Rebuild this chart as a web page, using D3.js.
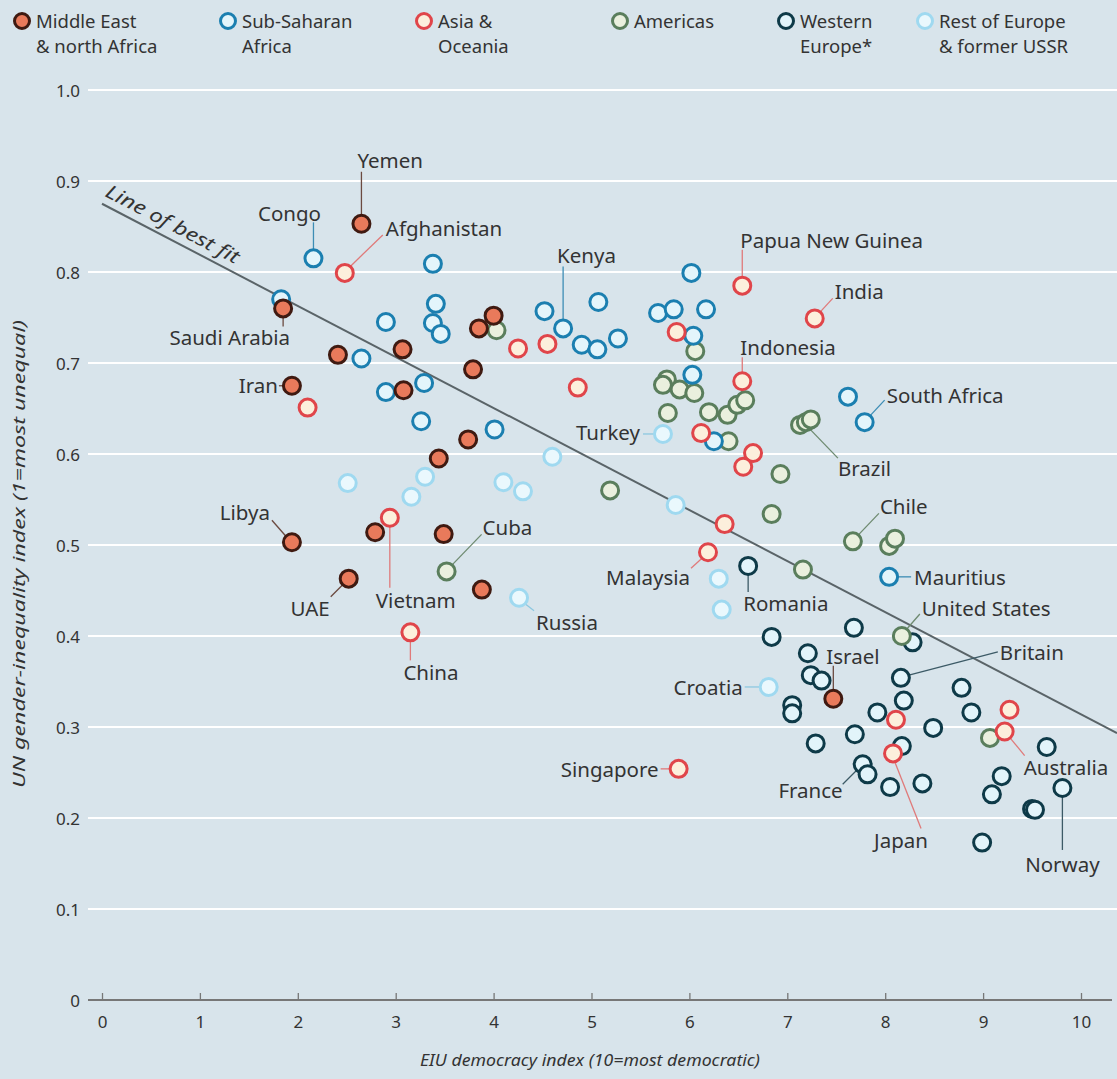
<!DOCTYPE html>
<html><head><meta charset="utf-8">
<script src="https://cdn.jsdelivr.net/npm/d3@7"></script>
<style>
html,body{margin:0;padding:0;background:#d8e4eb;}
svg{display:block;}
text{font-family:"Noto Sans",sans-serif;fill:#333;}
</style></head>
<body>
<script>
// ---- data (x = EIU democracy index, y = UN gender-inequality index) ----
const middleEast = [[2.65,0.853],[1.85,0.760],[1.94,0.675],[2.41,0.709],[3.07,0.715],[3.08,0.670],[3.79,0.693],[3.74,0.616],[3.44,0.595],[3.85,0.738],[4.00,0.752],[1.94,0.503],[2.52,0.463],[2.79,0.514],[3.49,0.512],[3.88,0.451],[7.47,0.331]];
const subSaharan = [[2.16,0.815],[1.83,0.770],[3.38,0.809],[2.90,0.745],[3.41,0.765],[3.38,0.744],[3.46,0.732],[2.65,0.705],[2.90,0.668],[3.29,0.678],[3.26,0.636],[4.01,0.627],[4.71,0.738],[4.52,0.757],[5.07,0.767],[4.90,0.720],[5.06,0.715],[5.27,0.727],[6.02,0.799],[5.68,0.755],[5.84,0.759],[6.17,0.759],[6.04,0.730],[6.03,0.687],[6.25,0.614],[7.62,0.663],[7.79,0.635],[8.04,0.465]];
const asiaOceania = [[2.48,0.799],[2.10,0.651],[4.25,0.716],[4.55,0.721],[4.86,0.673],[6.54,0.785],[7.28,0.749],[5.87,0.734],[6.54,0.680],[6.12,0.623],[6.65,0.601],[6.55,0.586],[2.94,0.530],[3.15,0.404],[6.19,0.492],[6.36,0.523],[5.89,0.254],[8.11,0.308],[8.08,0.271],[9.27,0.319],[9.22,0.295]];
const americas = [[3.52,0.471],[4.03,0.736],[5.19,0.560],[6.06,0.713],[5.77,0.682],[5.73,0.676],[5.90,0.671],[6.05,0.667],[5.78,0.645],[6.20,0.646],[6.39,0.643],[6.49,0.654],[6.57,0.659],[6.40,0.614],[6.93,0.578],[7.13,0.632],[7.19,0.635],[7.24,0.638],[6.84,0.534],[7.16,0.473],[7.67,0.504],[8.04,0.499],[8.10,0.507],[8.17,0.400],[9.07,0.288]];
const westernEurope = [[6.60,0.477],[6.84,0.399],[7.68,0.409],[8.28,0.393],[7.21,0.381],[7.24,0.357],[7.35,0.351],[7.05,0.324],[7.05,0.315],[8.16,0.354],[8.19,0.329],[7.92,0.316],[8.49,0.299],[7.69,0.292],[7.29,0.282],[8.17,0.279],[7.77,0.259],[7.82,0.248],[8.05,0.234],[8.38,0.238],[8.78,0.343],[8.88,0.316],[9.65,0.278],[9.81,0.233],[9.19,0.246],[9.09,0.226],[9.50,0.210],[9.53,0.209],[8.99,0.173]];
const restOfEurope = [[2.51,0.568],[3.30,0.575],[3.16,0.553],[4.10,0.569],[4.30,0.559],[4.60,0.597],[4.26,0.442],[5.73,0.622],[5.86,0.544],[6.30,0.463],[6.33,0.429],[6.81,0.344]];

const seriesNames = ["Middle East\n& north Africa","Sub-Saharan\nAfrica","Asia &\nOceania","Americas","Western\nEurope*","Rest of Europe\n& former USSR"];
const xTicks = [0,1,2,3,4,5,6,7,8,9,10];
const yTicks = [0,0.1,0.2,0.3,0.4,0.5,0.6,0.7,0.8,0.9,1.0];
const bestFit = {intercept:0.875, slope:-0.0561};

// labelled countries: [name, series, index]
const labelled = [
 ["Yemen","me",0],["Congo","ssa",0],["Afghanistan","asia",0],["Saudi Arabia","me",1],["Iran","me",2],
 ["Libya","me",11],["UAE","me",12],["Vietnam","asia",12],["China","asia",13],["Cuba","am",0],
 ["Russia","roe",6],["Kenya","ssa",12],["Papua New Guinea","asia",5],["India","asia",6],["Indonesia","asia",8],
 ["South Africa","ssa",26],["Turkey","roe",7],["Brazil","am",16],["Chile","am",20],["Malaysia","asia",14],
 ["Mauritius","ssa",27],["Romania","we",0],["United States","am",23],["Britain","we",9],["Israel","me",16],
 ["Croatia","roe",11],["Singapore","asia",16],["France","we",16],["Japan","asia",18],["Australia","asia",20],["Norway","we",23]
];

// ---- layout / style ----
const W=1117,H=1079;
const styles = {
 me:{fill:"#e97a5b",stroke:"#3f1a11",line:"#6b4a40"},
 ssa:{fill:"#e3f5fb",stroke:"#1b7fb0",line:"#3d8db5"},
 asia:{fill:"#fcefdc",stroke:"#e0454a",line:"#e07a7a"},
 am:{fill:"#eaf0de",stroke:"#5a7e5c",line:"#6e8a70"},
 we:{fill:"#e2f4fa",stroke:"#0e3a48",line:"#3c5a66"},
 roe:{fill:"#eaf8fd",stroke:"#9fd9f0",line:"#8cc8e0"}
};
const seriesData = {me:middleEast,ssa:subSaharan,asia:asiaOceania,am:americas,we:westernEurope,roe:restOfEurope};
const legendKeys = ["me","ssa","asia","am","we","roe"];
const drawOrder = ["we","am","roe","ssa","asia","me"];

// label layout offsets (pixels, relative to the point): text dx,dy, anchor, leader x1,y1,x2,y2
const labelLayout = {
 "Yemen":[-4,-64,"start",0,-9,0,-52],
 "Congo":[-24,-45,"middle",0,-9,0,-36],
 "Afghanistan":[41,-45,"start",6,-7,38,-38],
 "Saudi Arabia":[7,29,"end",0,8,0,18],
 "Iran":[-14,-1,"end",-8,0,-13,0],
 "Libya":[-22,-30,"end",-6,-6,-20,-22],
 "UAE":[-19,29,"end",-6,6,-18,18],
 "Vietnam":[-14,82,"start",0,9,0,70],
 "China":[-7,40,"start",0,9,0,28],
 "Cuba":[36,-44,"start",6,-7,35,-37],
 "Russia":[17,24,"start",6,6,15,13],
 "Kenya":[-6,-73,"start",0,-9,0,-62],
 "Papua New Guinea":[-2,-46,"start",0,-9,0,-36],
 "India":[20,-27,"start",6,-7,18,-20],
 "Indonesia":[-2,-34,"start",0,-9,0,-24],
 "South Africa":[22,-27,"start",6,-7,20,-22],
 "Turkey":[-23,-2,"end",-9,0,-20,0],
 "Brazil":[32,46,"start",5,8,32,36],
 "Chile":[27,-35,"start",6,-7,26,-28],
 "Malaysia":[-18,25,"end",-6,6,-17,16],
 "Mauritius":[25,0,"start",9,0,22,0],
 "Romania":[-5,37,"start",0,9,0,26],
 "United States":[20,-28,"start",5,-7,18,-22],
 "Britain":[99,-26,"start",9,-3,97,-26],
 "Israel":[-7,-43,"start",0,-9,0,-33],
 "Croatia":[-26,0,"end",-9,0,-24,0],
 "Singapore":[-20,0,"end",-9,0,-18,0],
 "France":[-20,26,"end",-6,6,-20,20],
 "Japan":[8,87,"middle",2,9,28,75],
 "Australia":[19,35,"start",6,7,20,24],
 "Norway":[0,76,"middle",0,9,0,62]
};

const svg = d3.select("body").append("svg").attr("width",W).attr("height",H);
svg.append("rect").attr("width",W).attr("height",H).attr("fill","#d8e4eb");

const x = d3.scaleLinear().domain([0,10]).range([102,1081]);
const y = d3.scaleLinear().domain([0,1]).range([1000,90]);

// gridlines
svg.append("g").selectAll("line").data(yTicks.filter(d=>d>0)).join("line")
 .attr("x1",88).attr("x2",W).attr("y1",d=>y(d)).attr("y2",d=>y(d))
 .attr("stroke","#ffffff").attr("stroke-width",2.2);

// y tick labels
svg.append("g").selectAll("text").data(yTicks).join("text")
 .attr("x",80).attr("y",d=>y(d)).attr("text-anchor","end").attr("dominant-baseline","central")
 .attr("font-size",17).text(d=>d===0?"0":d.toFixed(1));

// x axis
const xAxis = d3.axisBottom(x).tickValues(xTicks).tickSize(0).tickPadding(0).tickFormat(d3.format("d"));
const ax = svg.append("g").attr("transform",`translate(0,${y(0)})`).call(xAxis);
ax.select(".domain").remove();
ax.selectAll(".tick text").attr("font-size",17).attr("fill","#333").attr("y",28).attr("dy",0)
  .style("font-family","Noto Sans, sans-serif");
ax.selectAll(".tick").append("line").attr("y1",0).attr("y2",-7).attr("stroke","#777").attr("stroke-width",1.3);
svg.append("line").attr("x1",88).attr("x2",1112).attr("y1",y(0)).attr("y2",y(0)).attr("stroke","#777").attr("stroke-width",2);

// axis titles
svg.append("text").attr("x",590).attr("y",1066).attr("text-anchor","middle").attr("font-size",16)
 .attr("font-style","italic").attr("fill","#555").attr("textLength",340).attr("lengthAdjust","spacingAndGlyphs")
 .text("EIU democracy index (10=most democratic)");
svg.append("text").attr("transform","translate(19,554) rotate(-90)").attr("text-anchor","middle")
 .attr("dominant-baseline","central").attr("font-size",16).attr("font-style","italic").attr("fill","#555")
 .attr("textLength",468).attr("lengthAdjust","spacingAndGlyphs")
 .text("UN gender-inequality index (1=most unequal)");

// best fit line
const xEnd = x.invert(W);
svg.append("line").attr("x1",x(0)).attr("y1",y(bestFit.intercept))
 .attr("x2",x(xEnd)).attr("y2",y(bestFit.intercept+bestFit.slope*xEnd))
 .attr("stroke","#5a6468").attr("stroke-width",2);
const ang = Math.atan2(y(bestFit.intercept+bestFit.slope*1)-y(bestFit.intercept), x(1)-x(0))*180/Math.PI;
svg.append("text").attr("transform",`translate(${x(0.02)},${y(bestFit.intercept)-8}) rotate(${ang})`)
 .attr("font-size",19).attr("font-style","italic").attr("fill","#444")
 .attr("textLength",148).attr("lengthAdjust","spacingAndGlyphs").text("Line of best fit");

// leader lines
const lg = svg.append("g");
labelled.forEach(([name,key,i])=>{
  const p=seriesData[key][i], L=labelLayout[name];
  const px=x(p[0]), py=y(p[1]);
  lg.append("line").attr("x1",px+L[3]).attr("y1",py+L[4]).attr("x2",px+L[5]).attr("y2",py+L[6])
   .attr("stroke",styles[key].line).attr("stroke-width",1.3);
});

// points
drawOrder.forEach(key=>{
  svg.append("g").selectAll("circle").data(seriesData[key]).join("circle")
   .attr("cx",d=>x(d[0])).attr("cy",d=>y(d[1])).attr("r",8.5)
   .attr("fill",styles[key].fill).attr("stroke",styles[key].stroke).attr("stroke-width",3);
});

// labels
const tg = svg.append("g");
labelled.forEach(([name,key,i])=>{
  const p=seriesData[key][i], L=labelLayout[name];
  tg.append("text").attr("x",x(p[0])+L[0]).attr("y",y(p[1])+L[1]).attr("text-anchor",L[2])
   .attr("dominant-baseline","central").attr("font-size",20.5).attr("fill","#3a3a3a").text(name);
});

// legend
const legendX = [22,228,424,620,786,925];
legendKeys.forEach((key,i)=>{
  const g = svg.append("g").attr("transform",`translate(${legendX[i]},21)`);
  g.append("circle").attr("r",7.5).attr("fill",styles[key].fill).attr("stroke",styles[key].stroke).attr("stroke-width",3);
  seriesNames[i].split("\n").forEach((t,j)=>{
    g.append("text").attr("x",14).attr("y",j*25-1).attr("dominant-baseline","central").attr("font-size",18.5)
     .attr("fill","#3a3a3a").text(t);
  });
});
</script>
</body></html>
